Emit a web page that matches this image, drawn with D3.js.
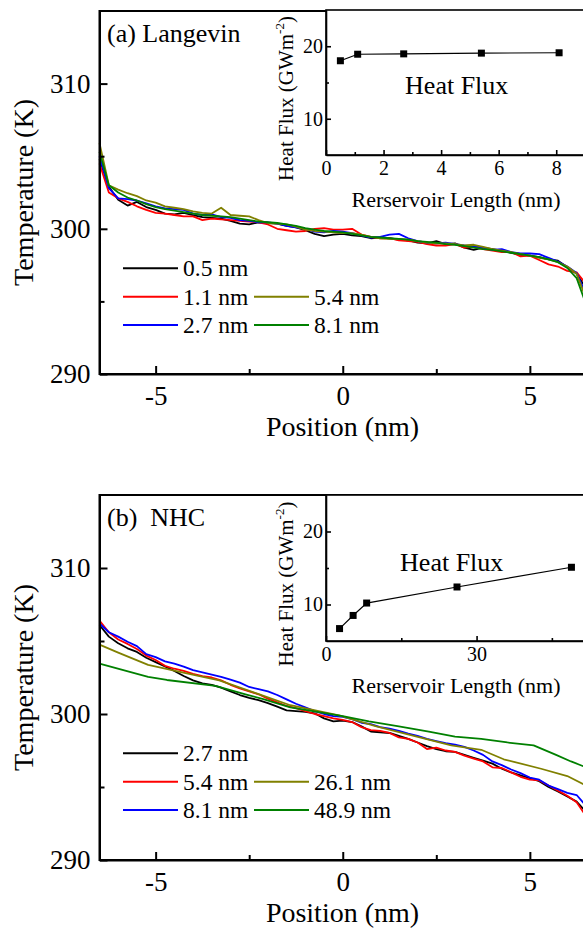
<!DOCTYPE html>
<html><head><meta charset="utf-8">
<script src="https://cdn.jsdelivr.net/npm/d3@7"></script>
<style>
html,body{margin:0;padding:0;background:#fff;overflow:hidden}
</style>
</head><body><div id="chart"></div>
<script>
// ---------- data ----------
const positions = [-6.5,-6.25,-6.0,-5.75,-5.5,-5.25,-5.0,-4.75,-4.5,-4.25,-4.0,-3.75,-3.5,-3.25,-3.0,-2.75,-2.5,-2.25,-2.0,-1.75,-1.5,-1.25,-1.0,-0.75,-0.5,-0.25,0,0.25,0.5,0.75,1.0,1.25,1.5,1.75,2.0,2.25,2.5,2.75,3.0,3.25,3.5,3.75,4.0,4.25,4.5,4.75,5.0,5.25,5.5,5.75,6.0,6.25,6.5];

const langevinLabels = ["0.5 nm","1.1 nm","2.7 nm","5.4 nm","8.1 nm"];
const lang05 = [304.8,302.9,302.0,301.6,301.85,301.5,301.3,301.05,301.0,301.1,300.95,300.8,300.75,300.7,300.55,300.35,300.3,300.45,300.4,300.35,300.2,300.1,299.9,299.65,299.5,299.6,299.65,299.55,299.5,299.35,299.4,299.35,299.25,299.2,299.05,299.0,299.15,298.95,299.0,298.7,298.55,298.7,298.6,298.5,298.35,298.2,298.15,298.05,297.9,297.8,297.35,296.9,295.9];
const lang11 = [304.5,302.5,302.1,301.85,301.55,301.3,301.1,301.05,300.95,300.85,300.85,300.6,300.7,300.65,300.6,300.55,300.5,300.45,300.3,300.0,299.9,299.8,299.85,300.0,300.05,299.95,299.95,300.0,299.6,299.45,299.35,299.35,299.2,299.15,299.1,298.95,298.85,298.85,298.95,298.7,298.75,298.6,298.5,298.4,298.4,298.1,298.15,297.85,297.55,297.4,297.1,297.0,296.2];
const lang27 = [305.0,302.8,302.1,302.05,301.95,301.75,301.55,301.4,301.35,301.3,301.05,300.95,301.0,300.8,300.75,300.6,300.55,300.45,300.45,300.35,300.2,300.1,300.0,299.8,299.75,299.85,299.8,299.7,299.55,299.4,299.45,299.6,299.65,299.35,299.15,299.05,299.0,299.05,298.95,298.85,298.8,298.7,298.55,298.6,298.4,298.3,298.3,298.25,298.0,297.75,297.4,296.95,295.5];
const lang54 = [305.9,303.0,302.7,302.45,302.25,301.95,301.8,301.55,301.45,301.35,301.2,301.1,301.05,301.45,300.95,300.9,300.85,300.6,300.4,300.35,300.3,300.15,299.95,299.85,299.8,299.75,299.7,299.7,299.6,299.45,299.35,299.3,299.3,299.25,299.15,299.05,299.0,299.0,298.95,298.85,298.9,298.75,298.6,298.5,298.4,298.25,298.15,298.0,297.9,297.7,297.4,296.9,295.2];
const lang81 = [305.3,303.0,302.5,302.15,301.95,301.7,301.5,301.35,301.25,301.15,301.05,300.95,300.9,300.85,300.8,300.7,300.6,300.5,300.45,300.4,300.3,300.2,300.05,299.95,299.85,299.8,299.75,299.65,299.55,299.45,299.4,299.35,299.3,299.25,299.15,299.1,299.05,298.95,298.9,298.8,298.7,298.6,298.55,298.45,298.35,298.25,298.15,298.05,297.9,297.7,297.3,296.6,294.8];

const nhcLabels = ["2.7 nm","5.4 nm","8.1 nm","26.1 nm","48.9 nm"];
const nhc27 = [306.1,305.3,304.85,304.5,304.25,303.85,303.55,303.25,302.95,302.6,302.3,302.1,302.0,301.8,301.55,301.3,301.1,300.95,300.75,300.5,300.25,300.2,300.15,300.05,299.7,299.5,299.55,299.45,299.15,298.8,298.75,298.7,298.5,298.3,298.05,297.8,297.6,297.45,297.4,297.2,297.0,296.8,296.6,296.25,296.0,295.8,295.6,295.4,295.0,294.7,294.35,294.0,293.3];
const nhc54 = [306.4,305.6,305.1,304.8,304.45,304.0,303.7,303.3,303.1,302.95,302.75,302.6,302.5,302.3,302.0,301.75,301.55,301.35,301.05,300.8,300.55,300.4,300.2,300.0,299.85,299.7,299.6,299.45,299.1,298.9,298.85,298.7,298.4,298.3,298.05,297.6,297.7,297.5,297.4,297.15,296.95,296.75,296.35,296.3,296.0,295.7,295.5,295.45,295.1,294.75,294.4,293.95,293.0];
const nhc81 = [306.2,305.6,305.3,304.95,304.65,304.1,303.9,303.6,303.45,303.25,303.0,302.85,302.7,302.55,302.35,302.15,301.85,301.7,301.55,301.3,301.0,300.7,300.45,300.2,300.0,299.85,299.8,299.65,299.4,299.3,299.1,299.0,298.85,298.65,298.5,298.3,298.15,298.0,297.9,297.75,297.5,297.2,296.75,296.5,296.2,295.95,295.65,295.5,295.1,294.85,294.6,294.45,293.7];
const nhc261Pos = [-6.5,-6.0,-5.2,-4.2,-3.3,-2.4,-1.4,-0.1,0.9,1.9,2.9,3.7,4.3,5.3,6.0,6.5];
const nhc261 = [304.75,304.2,303.36,302.8,302.3,301.5,300.6,299.9,299.15,298.5,297.85,297.55,296.9,296.25,295.75,295.1];
const nhc489Pos = [-6.5,-5.2,-4.7,-3.4,-2.6,-2.1,-1.4,0.0,0.7,1.5,2.3,3.0,3.7,4.4,5.1,5.7,6.1,6.5];
const nhc489 = [303.45,302.55,302.33,301.93,301.35,301.0,300.45,299.85,299.5,299.15,298.8,298.45,298.3,298.05,297.85,297.2,296.75,296.35];

const langFluxLength = [0.5,1.1,2.7,5.4,8.1];
const langFlux = [18.0,18.9,18.95,19.05,19.1];
const nhcFluxLength = [2.7,5.4,8.1,26.1,48.9];
const nhcFlux = [6.7,8.5,10.2,12.4,15.1];

const seriesColors = ["#000000","#ff0000","#0000ff","#808000","#008000"];
const tempTicks = [290,300,310];
const tempMinor = [295,305];
const posTicks = [-5,0,5];
const posMinor = [-2.5,2.5];
const fluxTicks = [10,20];
const fluxMinor = [15];
const langLenTicks = [0,2,4,6,8];
const langLenMinor = [1,3,5,7];
const nhcLenTicks = [0,30];
const nhcLenMinor = [15,45];

// ---------- drawing ----------
const FONT = '"Liberation Serif"';
const W = 583, H = 929;
const svg = d3.select("#chart").append("svg").attr("width", W).attr("height", H)
  .style("display","block").style("background","#fff");

function setFont(sel, fs) {
  return sel.style("font-family", FONT).style("font-size", fs + "px");
}
function styleAxis(sel, fs, sw) {
  sel.attr("font-family", null).attr("font-size", null);
  setFont(sel, fs);
  sel.selectAll("text").style("font-family", FONT);
  sel.select(".domain").attr("stroke-width", sw).attr("stroke", "#000");
  sel.selectAll(".tick line").attr("stroke-width", sw).attr("stroke", "#000");
  sel.selectAll(".tick text").attr("fill", "#000");
}

function panel(p) {
  const x = d3.scaleLinear().domain([-6.5, 6.5]).range([99.5, 586]);
  const y = d3.scaleLinear().domain([290, 315]).range([p.bottom, p.top]);
  const g = svg.append("g");
  const line = d3.line().x(d => x(d[0])).y(d => y(d[1]));
  p.series.forEach((s, i) => {
    g.append("path").datum(d3.zip(s.pos, s.val)).attr("d", line)
      .attr("fill", "none").attr("stroke", seriesColors[i])
      .attr("stroke-width", 1.8).attr("stroke-linejoin", "round");
  });
  g.append("rect").attr("x", x(-6.5)).attr("y", y(315))
    .attr("width", x(6.5) - x(-6.5)).attr("height", y(290) - y(315))
    .attr("fill", "none").attr("stroke", "#000").attr("stroke-width", 2);

  const xa = g.append("g").attr("transform", `translate(0,${p.bottom})`)
    .call(d3.axisBottom(x).tickValues(posTicks).tickSizeInner(-8).tickSizeOuter(0)
      .tickPadding(12).tickFormat(d => String(d)));
  styleAxis(xa, 27, 2);
  const xm = g.append("g").attr("transform", `translate(0,${p.bottom})`)
    .call(d3.axisBottom(x).tickValues(posMinor).tickSizeInner(-5).tickSizeOuter(0).tickFormat(""));
  xm.select(".domain").remove(); styleAxis(xm, 10, 2);

  const ya = g.append("g").attr("transform", `translate(${x(-6.5)},0)`)
    .call(d3.axisLeft(y).tickValues(tempTicks).tickSizeInner(-8).tickSizeOuter(0)
      .tickPadding(9).tickFormat(d => String(d)));
  styleAxis(ya, 27, 2);
  const ym = g.append("g").attr("transform", `translate(${x(-6.5)},0)`)
    .call(d3.axisLeft(y).tickValues(tempMinor).tickSizeInner(-5).tickSizeOuter(0).tickFormat(""));
  ym.select(".domain").remove(); styleAxis(ym, 10, 2);

  setFont(g.append("text").attr("transform", `translate(33,${(p.top + p.bottom) / 2}) rotate(-90)`)
    .attr("text-anchor", "middle"), 28).text("Temperature (K)");
  setFont(g.append("text").attr("x", 342.5).attr("y", p.bottom + 62)
    .attr("text-anchor", "middle"), 28).text("Position (nm)");
  setFont(g.append("text").attr("x", 107).attr("y", p.top + 31)
    .style("white-space", "pre"), 26).text(p.title);

  // legend
  const cols = [{lx: 123, tx: 183}, {lx: 254, tx: 314}];
  const slots = [[0,0],[0,1],[0,2],[1,1],[1,2]];
  p.series.forEach((s, i) => {
    const c = cols[slots[i][0]];
    const ry = p.legendY + slots[i][1] * 28.4;
    g.append("line").attr("x1", c.lx).attr("x2", c.lx + 55).attr("y1", ry).attr("y2", ry)
      .attr("stroke", seriesColors[i]).attr("stroke-width", 2);
    setFont(g.append("text").attr("x", c.tx).attr("y", ry + 8), 23.5).text(p.labels[i]);
  });
}

function inset(p) {
  const x = d3.scaleLinear().domain(p.xDomain).range([326, p.xRight]);
  const y = d3.scaleLinear().domain([5, 25]).range([p.bottom, p.top]);
  const g = svg.append("g");
  g.append("rect").attr("x", x(p.xDomain[0])).attr("y", y(25))
    .attr("width", x(p.xDomain[1]) - x(p.xDomain[0])).attr("height", y(5) - y(25))
    .attr("fill", "#fff").attr("stroke", "#000").attr("stroke-width", 1.6);
  const xa = g.append("g").attr("transform", `translate(0,${p.bottom})`)
    .call(d3.axisBottom(x).tickValues(p.xTicks).tickSizeInner(-5).tickSizeOuter(0)
      .tickPadding(6).tickFormat(d => String(d)));
  styleAxis(xa, 20, 1.6);
  const xm = g.append("g").attr("transform", `translate(0,${p.bottom})`)
    .call(d3.axisBottom(x).tickValues(p.xMinor).tickSizeInner(-3).tickSizeOuter(0).tickFormat(""));
  xm.select(".domain").remove(); styleAxis(xm, 10, 1.6);
  const ya = g.append("g").attr("transform", `translate(326,0)`)
    .call(d3.axisLeft(y).tickValues(fluxTicks).tickSizeInner(-5).tickSizeOuter(0)
      .tickPadding(3).tickFormat(d => String(d)));
  styleAxis(ya, 20, 1.6);
  const ym = g.append("g").attr("transform", `translate(326,0)`)
    .call(d3.axisLeft(y).tickValues(fluxMinor).tickSizeInner(-3).tickSizeOuter(0).tickFormat(""));
  ym.select(".domain").remove(); styleAxis(ym, 10, 1.6);

  const pts = d3.zip(p.len, p.flux);
  g.append("path").datum(pts)
    .attr("d", d3.line().x(d => x(d[0])).y(d => y(d[1])))
    .attr("fill", "none").attr("stroke", "#000").attr("stroke-width", 1.2);
  g.selectAll("rect.m").data(pts).enter().append("rect").attr("class", "m")
    .attr("x", d => x(d[0]) - 3.5).attr("y", d => y(d[1]) - 3.5)
    .attr("width", 7).attr("height", 7).attr("fill", "#000");

  setFont(g.append("text").attr("x", p.hfX).attr("y", p.top + p.hfDy)
    .attr("text-anchor", "middle"), 26).text("Heat Flux");
  setFont(g.append("text").attr("x", 456).attr("y", p.bottom + 52)
    .attr("text-anchor", "middle"), 22).text("Rerservoir Length (nm)");
  const yl = setFont(g.append("text")
    .attr("transform", `translate(293,${(p.top + p.bottom) / 2 + 16}) rotate(-90)`)
    .attr("text-anchor", "middle"), 21);
  yl.append("tspan").style("font-family", FONT).text("Heat Flux (GWm");
  yl.append("tspan").style("font-family", FONT).style("font-size", "13px").attr("dy", -9).text("-2");
  yl.append("tspan").style("font-family", FONT).attr("dy", 9).text(")");
}

panel({
  top: 11, bottom: 374, title: "(a) Langevin", labels: langevinLabels, legendY: 268.3,
  series: [
    {pos: positions, val: lang05}, {pos: positions, val: lang11}, {pos: positions, val: lang27},
    {pos: positions, val: lang54}, {pos: positions, val: lang81}
  ]
});
panel({
  top: 495, bottom: 860, title: "(b)  NHC", labels: nhcLabels, legendY: 753.3,
  series: [
    {pos: positions, val: nhc27}, {pos: positions, val: nhc54}, {pos: positions, val: nhc81},
    {pos: nhc261Pos, val: nhc261}, {pos: nhc489Pos, val: nhc489}
  ]
});
inset({top: 10, bottom: 155, xDomain: [0, 9], xRight: 585, xTicks: langLenTicks, xMinor: langLenMinor,
  len: langFluxLength, flux: langFlux, hfX: 456.7, hfDy: 84});
inset({top: 495, bottom: 641, xDomain: [0, 52], xRight: 587, xTicks: nhcLenTicks, xMinor: nhcLenMinor,
  len: nhcFluxLength, flux: nhcFlux, hfX: 451.7, hfDy: 76});
</script>
</body></html>
